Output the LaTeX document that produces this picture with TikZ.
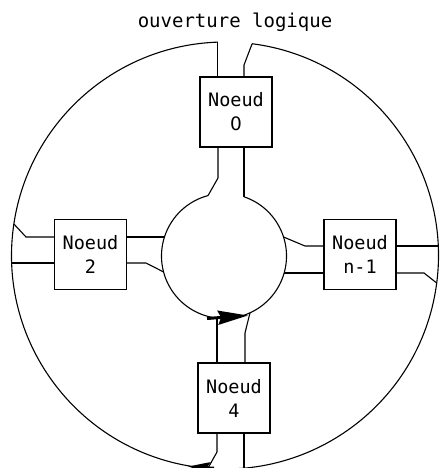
\documentclass[tikz,border=0pt]{standalone}
\usepackage{fontspec}
\usetikzlibrary{calc,arrows.meta}
\newfontfamily\dejamono{DejaVu Sans Mono}
\newfontfamily\dejasans{DejaVu Sans}
\begin{document}
\begin{tikzpicture}[x=1pt,y=-1pt, line width=1.1pt,
  box/.style={draw, minimum width=72pt, minimum height=70pt, inner sep=0pt, align=center,
    font=\dejamono\fontsize{18.5}{24}\selectfont},
  lbl/.style={font=\dejamono\fontsize{19}{23}\selectfont, inner sep=0pt},
  bigarrow/.style={line width=3pt, -{Stealth[length=30pt,width=14pt,inset=3pt]}}]
\useasboundingbox (0,0) rectangle (440,468);
\clip (0,0) rectangle (440,468);

% nodes
\node[box] (n0) at (236,112) {Noeud\\{\dejasans 0}};
\node[box] (n2) at (90.5,254.5) {Noeud\\2};
\node[box] (nm) at (360,254.5) {Noeud\\n-1};
\node[box] (n4) at (234,398) {Noeud\\4};
\node[lbl, anchor=base] (lab) at (235,28) {ouverture logique};

% centres
\coordinate (O) at (225,255.5);
\coordinate (C) at (224,256);

% points on outer ring
\coordinate (oT1) at ($(O)+(268.1:213.5)$);
\coordinate (oT2) at ($(O)+(277.3:213.5)$);
\coordinate (oL1) at ($(O)+(188.5:213.5)$);
\coordinate (oL2) at ($(O)+(178:213.5)$);
\coordinate (oR1) at ($(O)+(357.45:213.5)$);
\coordinate (oR2) at ($(O)+(7.4:213.5)$);
\coordinate (oB1) at ($(O)+(94.6:213.5)$);
\coordinate (oB2) at ($(O)+(84.9:213.5)$);

% points on inner ring
\coordinate (iTL) at ($(C)+(255.2:62.5)$);
\coordinate (iTR) at ($(C)+(288.7:62.5)$);
\coordinate (iL1) at ($(C)+(197.7:62.5)$);
\coordinate (iL2) at ($(C)+(165.2:62.5)$);
\coordinate (iR1) at ($(C)+(342.3:62.5)$);
\coordinate (iR2) at ($(C)+(15.8:62.5)$);
\coordinate (iB4) at ($(C)+(96.4:62.5)$);
\coordinate (iBR) at ($(C)+(65.4:62.5)$);

% rings
\draw (oT2) arc[start angle=277.3, end angle=628.1, radius=213.5];
\draw (iTR) arc[start angle=288.7, end angle=615.2, radius=62.5];

% node 0
\coordinate (k0) at (244,65);
\coordinate (k1) at (218,178);
\draw (oT1) -- (oT1 |- n0.north);
\draw (oT2) -- (k0) -- (k0 |- n0.north);
\draw (k1 |- n0.south) -- (k1) -- (iTL);
\draw (iTR |- n0.south) -- (iTR);

% node 2
\coordinate (k2) at (26,237);
\coordinate (k3) at (146,263);
\draw (n2.west |- k2) -- (k2) -- (oL1);
\draw (n2.west |- oL2) -- (oL2);
\draw (n2.east |- iL1) -- (iL1);
\draw (n2.east |- k3) -- (k3) -- (iL2);

% node n-1
\coordinate (k4) at (305,246);
\coordinate (k5) at (424,273);
\draw (iR1) -- (k4) -- (k4 -| nm.west);
\draw (iR2) -- (iR2 -| nm.west);
\draw (nm.east |- oR1) -- (oR1);
\draw (nm.east |- k5) -- (k5) -- (oR2);

% node 4
\coordinate (k6) at (245,333);
\coordinate (k7) at (217,452);
\draw (n4.north -| iB4) -- (iB4);
\draw (n4.north -| k6) -- (k6) -- (iBR);
\draw (n4.south -| k7) -- (k7) -- (oB1);
\draw (n4.south -| oB2) -- (oB2);

% direction arrows
\coordinate (a1) at (207,318.5);
\coordinate (a2) at (248,315.5);
\draw[bigarrow] (a1) -- (a2);
\coordinate (a3) at (214,468);
\coordinate (a4) at (188,466.5);
\draw[line width=2.5pt, -{Stealth[length=22pt,width=11pt,inset=3pt]}] (a3) -- (a4);
\end{tikzpicture}
\end{document}
